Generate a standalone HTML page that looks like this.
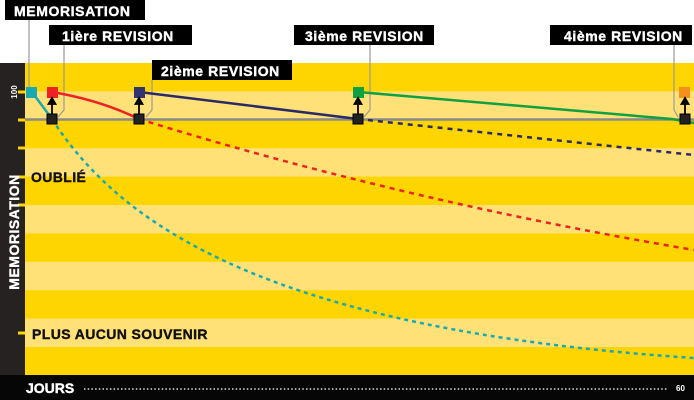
<!DOCTYPE html>
<html><head><meta charset="utf-8"><style>
body{margin:0;width:694px;height:400px;overflow:hidden;background:#fff;font-family:"Liberation Sans",sans-serif}
</style></head><body>
<svg width="694" height="400" xmlns="http://www.w3.org/2000/svg" style="display:block">
<rect x="25" y="63" width="669" height="312" fill="#FFD500"/>
<g fill="#FFE178">
<rect x="25" y="91.4" width="669" height="28.4"/>
<rect x="25" y="148.2" width="669" height="28.4"/>
<rect x="25" y="205" width="669" height="28.4"/>
<rect x="25" y="261.8" width="669" height="28.4"/>
<rect x="25" y="318.6" width="669" height="28.4"/>
</g>
<rect x="0" y="63" width="25" height="337" fill="#262222"/>
<rect x="0" y="375" width="694" height="25" fill="#060606"/>
<g stroke="#FFD500" stroke-width="3">
<line x1="18" y1="92" x2="25" y2="92"/><line x1="18" y1="120" x2="25" y2="120"/>
<line x1="18" y1="148" x2="25" y2="148"/><line x1="18" y1="177" x2="25" y2="177"/>
<line x1="18" y1="205" x2="25" y2="205"/><line x1="18" y1="333" x2="25" y2="333"/>
</g>
<text x="14" y="92" fill="#fff" font-size="8" font-weight="bold" text-anchor="middle" transform="rotate(-90 14 92)" dy="3">100</text>
<text x="14" y="232" fill="#fff" font-size="14" font-weight="bold" text-anchor="middle" transform="rotate(-90 14 232)" dy="5" stroke="#fff" stroke-width="0.4" letter-spacing="0.5">MEMORISATION</text>
<line x1="25" y1="119.5" x2="694" y2="119.5" stroke="#8a8a8a" stroke-width="2.5"/>
<g stroke="#999" stroke-width="1.2" fill="none">
<polyline points="29,20 29,92"/>
<polyline points="64,45 64,110 58,117"/>
<polyline points="152,80 152,110 146,117"/>
<polyline points="370,45 370,110 364,117"/>
<polyline points="674,45 674,110 678,117"/>
</g>
<polyline points="32,92 52,119" stroke="#1aa9b0" stroke-width="2.5" fill="none"/>
<path d="M52,119 C120,225 270,330 694,358" stroke="#1aa9b0" stroke-width="2.5" stroke-dasharray="4,4" fill="none"/>
<path d="M52,92 Q100,100 139,119" stroke="#ee2222" stroke-width="2.5" fill="none"/>
<path d="M139,119 Q400,200 694,250" stroke="#ee2222" stroke-width="2.5" stroke-dasharray="5,5" fill="none"/>
<line x1="139" y1="92" x2="358" y2="119" stroke="#2a2a66" stroke-width="2.5"/>
<path d="M358,119 L694,155" stroke="#2a2a66" stroke-width="2.5" stroke-dasharray="5,5"/>
<line x1="358" y1="92" x2="672" y2="119" stroke="#10a040" stroke-width="2.5"/>
<line x1="672" y1="119" x2="694" y2="123" stroke="#10a040" stroke-width="2.5"/>
<rect x="26" y="87" width="11" height="11" fill="#1aa9b0"/>
<rect x="47" y="87" width="11" height="11" fill="#ee2222"/>
<rect x="134" y="87" width="11" height="11" fill="#33336e"/>
<rect x="353" y="87" width="11" height="11" fill="#10a040"/>
<rect x="679" y="87" width="11" height="11" fill="#f5901e"/>
<g fill="#222" stroke="#000">
<rect x="47" y="114" width="10" height="10"/><rect x="134" y="114" width="10" height="10"/>
<rect x="353" y="114" width="10" height="10"/><rect x="680" y="114" width="10" height="10"/>
</g>
<g stroke="#000" stroke-width="1.8" fill="#000">
<line x1="52" y1="114" x2="52" y2="102"/><polygon points="48.5,104 52,98 55.5,104"/>
<line x1="139" y1="114" x2="139" y2="102"/><polygon points="135.5,104 139,98 142.5,104"/>
<line x1="358" y1="114" x2="358" y2="102"/><polygon points="354.5,104 358,98 361.5,104"/>
<line x1="685" y1="114" x2="685" y2="102"/><polygon points="681.5,104 685,98 688.5,104"/>
</g>
<rect x="5" y="0" width="140" height="20" fill="#000"/>
<rect x="49" y="25" width="143" height="20" fill="#000"/>
<rect x="152" y="60" width="140" height="20" fill="#000"/>
<rect x="294" y="25" width="140" height="20" fill="#000"/>
<rect x="550" y="25" width="142" height="20" fill="#000"/>
<g font-weight="bold" font-size="14" fill="#fff" stroke="#fff" stroke-width="0.4" letter-spacing="0.6">
<text x="14" y="16">MEMORISATION</text>
<text x="62" y="41">1ière REVISION</text>
<text x="161" y="76">2ième REVISION</text>
<text x="305" y="41">3ième REVISION</text>
<text x="564" y="41">4ième REVISION</text>
</g>
<g font-weight="bold" font-size="14" fill="#111" stroke="#111" stroke-width="0.4" letter-spacing="0.4">
<text x="31" y="182">OUBLIÉ</text>
<text x="32" y="339">PLUS AUCUN SOUVENIR</text>
</g>
<text x="26" y="393" fill="#fff" font-weight="bold" font-size="14" stroke="#fff" stroke-width="0.4">JOURS</text>
<line x1="84" y1="389" x2="668" y2="389" stroke="#ddd" stroke-width="1.5" stroke-dasharray="1.5,2.2"/>
<text x="676" y="391" fill="#fff" font-weight="bold" font-size="8">60</text>
</svg>
</body></html>
